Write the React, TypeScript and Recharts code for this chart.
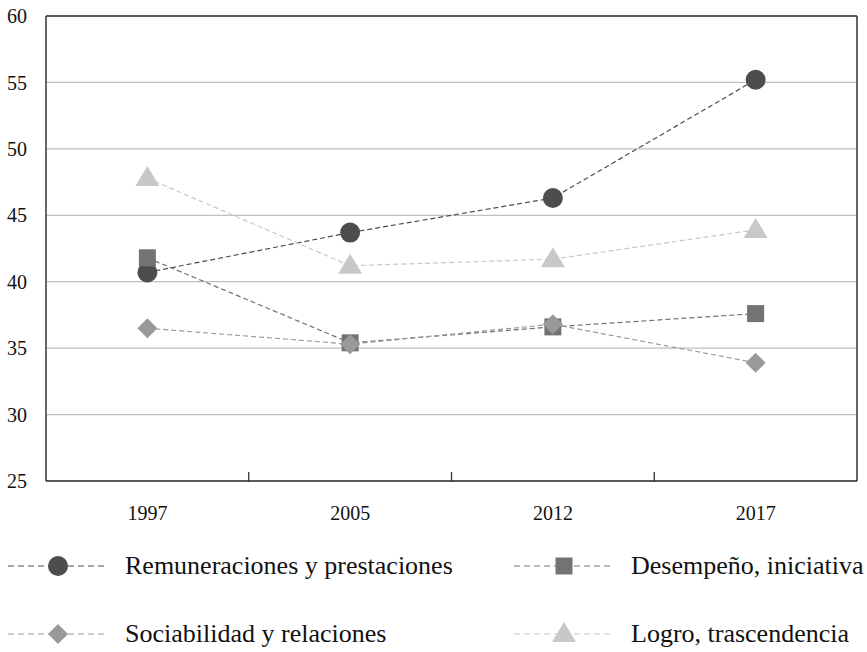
import { CartesianGrid, Line, LineChart, XAxis, YAxis } from "recharts";

const years = ["1997", "2005", "2012", "2017"];
const remuneraciones = [40.7, 43.7, 46.3, 55.2];
const desempeno = [41.8, 35.4, 36.6, 37.6];
const sociabilidad = [36.5, 35.3, 36.8, 33.9];
const logro = [47.8, 41.2, 41.7, 43.9];
const yTicks = [25, 30, 35, 40, 45, 50, 55, 60];

const FONT = "'Liberation Serif', 'DejaVu Serif', serif";

type Shape = "circle" | "square" | "diamond" | "triangle";

const series: { key: string; name: string; color: string; shape: Shape; values: number[] }[] = [
  { key: "rem", name: "Remuneraciones y prestaciones", color: "#4d4d4d", shape: "circle", values: remuneraciones },
  { key: "des", name: "Desempeño, iniciativa", color: "#737373", shape: "square", values: desempeno },
  { key: "soc", name: "Sociabilidad y relaciones", color: "#999999", shape: "diamond", values: sociabilidad },
  { key: "log", name: "Logro, trascendencia", color: "#c8c8c8", shape: "triangle", values: logro },
];

const data = years.map((year, i) => {
  const row: Record<string, string | number> = { year };
  series.forEach((s) => (row[s.key] = s.values[i]));
  return row;
});

function Marker({ cx, cy, shape, color }: { cx: number; cy: number; shape: Shape; color: string }) {
  if (shape === "circle") return <circle cx={cx} cy={cy} r={10} fill={color} />;
  if (shape === "square") return <rect x={cx - 8.5} y={cy - 8.5} width={17} height={17} fill={color} />;
  if (shape === "diamond")
    return <path d={`M${cx},${cy - 10}L${cx + 10},${cy}L${cx},${cy + 10}L${cx - 10},${cy}Z`} fill={color} />;
  return <path d={`M${cx},${cy - 12}L${cx + 12},${cy + 8}L${cx - 12},${cy + 8}Z`} fill={color} />;
}

const CHART_W = 867;
const CHART_H = 535;
const LEFT = 46;
const RIGHT = 9;
const BAND = (CHART_W - LEFT - RIGHT - 1) / years.length;

function XTick(props: any) {
  const { x, y, payload, index } = props;
  return (
    <g>
      {index < years.length - 1 && (
        <line x1={x + BAND / 2} x2={x + BAND / 2} y1={y - 7} y2={y - 17} stroke="#333" strokeWidth={1.3} />
      )}
      <text x={x} y={y + 31} textAnchor="middle" fontSize={20} fill="#111" fontFamily={FONT}>
        {payload.value}
      </text>
    </g>
  );
}

function LegendItem({ s, left, top }: { s: (typeof series)[number]; left: number; top: number }) {
  return (
    <div style={{ position: "absolute", left, top, display: "flex", alignItems: "center" }}>
      <svg width={100} height={28}>
        <line x1={0} x2={100} y1={14} y2={14} stroke={s.color} strokeWidth={1} strokeDasharray="6 4" />
        <Marker cx={50} cy={14} shape={s.shape} color={s.color} />
      </svg>
      <span style={{ marginLeft: 17, fontSize: 26, fontFamily: FONT, color: "#111", whiteSpace: "nowrap" }}>{s.name}</span>
    </div>
  );
}

export default function App() {
  return (
    <div style={{ position: "absolute", left: 0, top: 0, width: 867, height: 652, background: "#fff" }}>
      <LineChart
        width={CHART_W}
        height={CHART_H}
        data={data}
        margin={{ top: 15, right: RIGHT, left: 0, bottom: 0 }}
      >
        <CartesianGrid vertical={false} stroke="#c0c0c0" strokeWidth={1.3} />
        <XAxis
          dataKey="year"
          scale="band"
          height={54}
          tickLine={false}
          axisLine={{ stroke: "#333", strokeWidth: 1.5 }}
          tick={<XTick />}
          interval={0}
        />
        <XAxis
          xAxisId="top"
          orientation="top"
          dataKey="year"
          scale="band"
          height={1}
          tick={false}
          tickLine={false}
          axisLine={{ stroke: "#333", strokeWidth: 1.5 }}
        />
        <YAxis
          domain={[25, 60]}
          ticks={yTicks}
          width={LEFT}
          tickLine={false}
          axisLine={{ stroke: "#333", strokeWidth: 1.5 }}
          tickMargin={13}
          tick={{ fontSize: 20, fill: "#111", fontFamily: FONT }}
          interval={0}
        />
        <YAxis
          yAxisId="right"
          orientation="right"
          width={1}
          domain={[25, 60]}
          tick={false}
          tickLine={false}
          axisLine={{ stroke: "#333", strokeWidth: 1.5 }}
        />
        {series.map((s) => (
          <Line
            key={s.key}
            dataKey={s.key}
            name={s.name}
            stroke={s.color}
            strokeWidth={1.2}
            strokeDasharray="5 3"
            isAnimationActive={false}
            dot={(p: any) => <Marker key={`${s.key}-${p.index}`} cx={p.cx} cy={p.cy} shape={s.shape} color={s.color} />}
            activeDot={false}
          />
        ))}
      </LineChart>
      <LegendItem s={series[0]} left={8} top={551} />
      <LegendItem s={series[1]} left={514} top={551} />
      <LegendItem s={series[2]} left={8} top={619} />
      <LegendItem s={series[3]} left={514} top={619} />
    </div>
  );
}
